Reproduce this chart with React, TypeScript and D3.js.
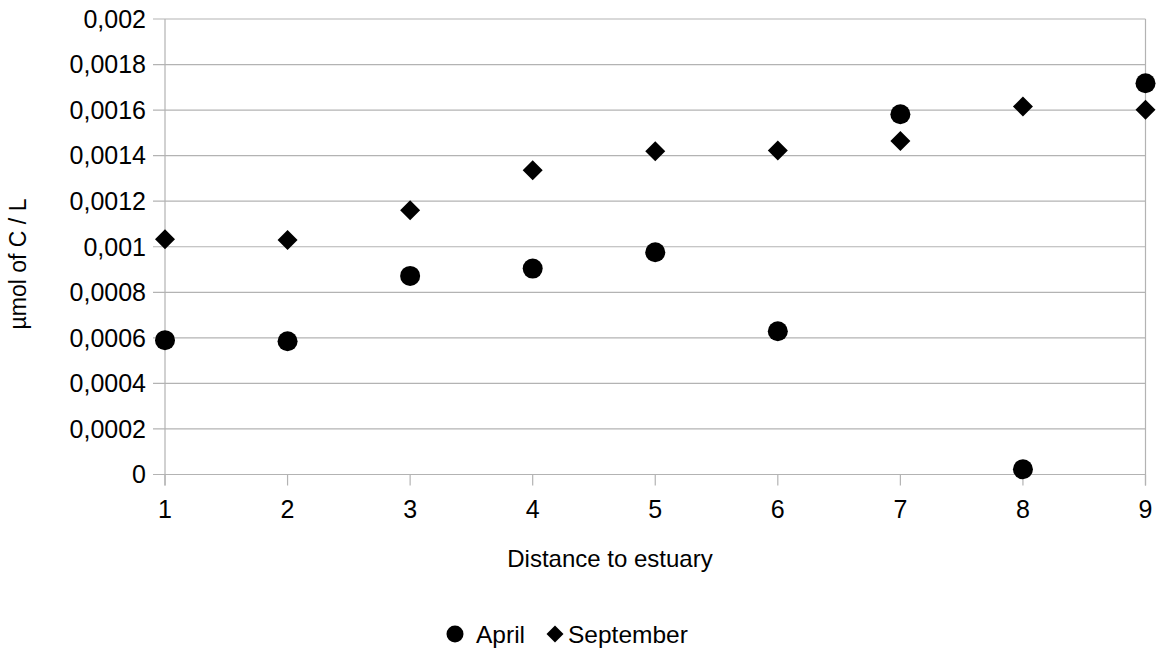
import React from "react";
import * as d3 from "d3";

const distances = [1, 2, 3, 4, 5, 6, 7, 8, 9];
const april = [0.00059, 0.000585, 0.000872, 0.000904, 0.000976, 0.000629, 0.001582, 0.000023, 0.001718];
const september = [0.001033, 0.00103, 0.00116, 0.001336, 0.001419, 0.001423, 0.001464, 0.001616, 0.001602];
const yTicks = [0, 0.0002, 0.0004, 0.0006, 0.0008, 0.001, 0.0012, 0.0014, 0.0016, 0.0018, 0.002];
const xTicks = [1, 2, 3, 4, 5, 6, 7, 8, 9];
const seriesNames = ["April", "September"];

const W = 1160;
const H = 653;
const left = 165;
const right = 1145.5;
const top = 19;
const bottom = 474.5;
const grid = "#b3b3b3";
const font = "'Liberation Sans', Arial, sans-serif";

export default function App() {
  const x = d3.scaleLinear().domain([1, 9]).range([left, right]);
  const y = d3.scaleLinear().domain([0, 0.002]).range([bottom, top]);
  const fmt = (v: number) => (v === 0 ? "0" : String(+v.toFixed(4)).replace(".", ","));
  const diamond = (cx: number, cy: number, r: number) =>
    `M${cx},${cy - r}L${cx + r},${cy}L${cx},${cy + r}L${cx - r},${cy}Z`;

  return (
    <svg width={W} height={H} style={{ position: "absolute", left: 0, top: 0, background: "#fff" }} fontFamily={font}>
      <rect width={W} height={H} fill="#fff" />
      {yTicks.map((t) => (
        <g key={"y" + t}>
          <line x1={left - 12} x2={right} y1={y(t)} y2={y(t)} stroke={grid} strokeWidth={1.2} />
          <text x={146} y={y(t)} dy="0.35em" textAnchor="end" fontSize={25} fill="#000">
            {fmt(t)}
          </text>
        </g>
      ))}
      <line x1={left} x2={left} y1={top} y2={bottom + 11} stroke={grid} strokeWidth={1.2} />
      <line x1={right} x2={right} y1={top} y2={bottom + 11} stroke={grid} strokeWidth={1.2} />
      {xTicks.map((t) => (
        <g key={"x" + t}>
          <line x1={x(t)} x2={x(t)} y1={bottom} y2={bottom + 11} stroke={grid} strokeWidth={1.2} />
          <text x={x(t)} y={518} textAnchor="middle" fontSize={25} fill="#000">
            {t}
          </text>
        </g>
      ))}
      <text x={610} y={567} textAnchor="middle" fontSize={24} fill="#000">
        Distance to estuary
      </text>
      <text transform={`translate(26,264) rotate(-90)`} textAnchor="middle" fontSize={23} fill="#000">
        µmol of C / L
      </text>
      {september.map((v, i) => (
        <path key={"s" + i} d={diamond(x(distances[i]), y(v), 10)} fill="#000" />
      ))}
      {april.map((v, i) => (
        <circle key={"a" + i} cx={x(distances[i])} cy={y(v)} r={10} fill="#000" />
      ))}
      <circle cx={455} cy={634} r={8.5} fill="#000" />
      <text x={476} y={643} fontSize={24.5} fill="#000">
        {seriesNames[0]}
      </text>
      <path d={diamond(555, 634, 8.5)} fill="#000" />
      <text x={568} y={643} fontSize={24.5} fill="#000">
        {seriesNames[1]}
      </text>
    </svg>
  );
}
